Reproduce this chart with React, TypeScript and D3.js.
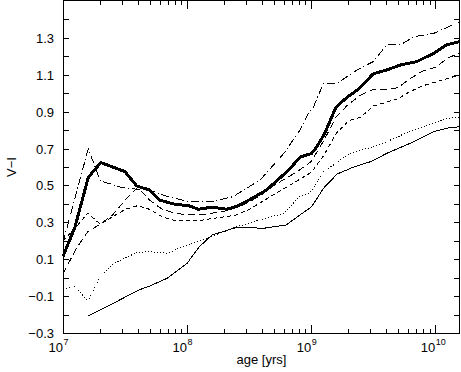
import React from 'react';
import * as d3 from 'd3';

const W = 461;
const H = 372;
const X0 = 63, X1 = 460, Y0 = 333, Y1 = 1;

// log10(age [yrs]) and V-I colour for each model track
const thickAge = [7.0, 7.097, 7.204, 7.304, 7.4, 7.5, 7.594, 7.70, 7.78, 7.89, 8.02, 8.09, 8.2, 8.32, 8.41, 8.51, 8.64, 8.82, 8.91, 9.005, 9.046, 9.11, 9.2, 9.29, 9.38, 9.50, 9.61, 9.72, 9.85, 9.99, 10.09, 10.2];
const thickVI = [0.114, 0.276, 0.544, 0.624, 0.60, 0.575, 0.497, 0.475, 0.42, 0.40, 0.389, 0.371, 0.382, 0.371, 0.389, 0.425, 0.475, 0.584, 0.653, 0.674, 0.71, 0.783, 0.924, 0.978, 1.021, 1.105, 1.126, 1.153, 1.171, 1.217, 1.262, 1.28];

const dashDotAge = [7.0, 7.204, 7.30, 7.47, 7.59, 7.70, 7.84, 8.02, 8.19, 8.37, 8.59, 8.78, 8.91, 8.97, 9.02, 9.10, 9.21, 9.37, 9.50, 9.61, 9.72, 9.83, 9.99, 10.2];
const dashDotVI = [0.19, 0.70, 0.525, 0.49, 0.48, 0.475, 0.44, 0.412, 0.412, 0.439, 0.53, 0.674, 0.80, 0.882, 0.927, 1.054, 1.054, 1.126, 1.171, 1.262, 1.262, 1.307, 1.325, 1.388];

const longDashAge = [7.0, 7.1, 7.2, 7.3, 7.4, 7.5, 7.6, 7.7, 7.8, 7.9, 8.0, 8.1, 8.2, 8.3, 8.4, 8.5, 8.6, 8.7, 8.8, 8.9, 9.0, 9.1, 9.2, 9.3, 9.4, 9.5, 9.6, 9.7, 9.8, 9.9, 10.0, 10.1, 10.2];
const longDashVI = [0.02, 0.15, 0.25, 0.29, 0.34, 0.42, 0.49, 0.42, 0.37, 0.35, 0.34, 0.34, 0.35, 0.36, 0.38, 0.41, 0.45, 0.50, 0.54, 0.58, 0.63, 0.74, 0.87, 0.94, 0.99, 1.02, 1.02, 1.03, 1.08, 1.12, 1.14, 1.19, 1.22];

const shortDashAge = [7.0, 7.1, 7.2, 7.3, 7.4, 7.5, 7.6, 7.7, 7.8, 7.9, 8.0, 8.1, 8.2, 8.3, 8.4, 8.5, 8.6, 8.7, 8.8, 8.9, 9.0, 9.1, 9.2, 9.3, 9.4, 9.5, 9.6, 9.7, 9.8, 9.9, 10.0, 10.1, 10.2];
const shortDashVI = [0.2, 0.27, 0.35, 0.29, 0.33, 0.37, 0.39, 0.37, 0.33, 0.31, 0.31, 0.31, 0.32, 0.33, 0.34, 0.37, 0.41, 0.45, 0.49, 0.53, 0.57, 0.66, 0.78, 0.85, 0.87, 0.93, 0.95, 0.97, 1.01, 1.04, 1.06, 1.08, 1.10];

const dottedAge = [7.0, 7.1, 7.2, 7.3, 7.41, 7.59, 7.69, 7.84, 8.0, 8.19, 8.40, 8.59, 8.78, 8.91, 8.99, 9.05, 9.10, 9.18, 9.31, 9.45, 9.61, 9.80, 9.99, 10.09, 10.2];
const dottedVI = [-0.067, -0.045, -0.13, 0.005, 0.078, 0.135, 0.141, 0.132, 0.177, 0.222, 0.276, 0.313, 0.349, 0.44, 0.46, 0.52, 0.575, 0.611, 0.674, 0.70, 0.737, 0.795, 0.837, 0.864, 0.87];

const thinAge = [7.2, 7.38, 7.61, 7.70, 7.84, 8.0, 8.10, 8.2, 8.40, 8.62, 8.80, 8.91, 9.005, 9.10, 9.21, 9.34, 9.48, 9.61, 9.80, 9.99, 10.09, 10.2];
const thinVI = [-0.208, -0.148, -0.067, -0.045, -0.003, 0.078, 0.168, 0.231, 0.273, 0.268, 0.286, 0.34, 0.385, 0.485, 0.562, 0.599, 0.629, 0.674, 0.729, 0.792, 0.81, 0.819];

const series = [
  { age: thinAge, vi: thinVI, width: 1, dash: '' },
  { age: dottedAge, vi: dottedVI, width: 1, dash: '1,2' },
  { age: shortDashAge, vi: shortDashVI, width: 1, dash: '4,3' },
  { age: longDashAge, vi: longDashVI, width: 1, dash: '7,4' },
  { age: dashDotAge, vi: dashDotVI, width: 1, dash: '8,3,1,3' },
  { age: thickAge, vi: thickVI, width: 3, dash: '' },
];

const FONT = "'Liberation Sans', Arial, Helvetica, sans-serif";

export default function App() {
  const x = d3.scaleLog().domain([1e7, Math.pow(10, 10.2)]).range([X0, X1]);
  const y = d3.scaleLinear().domain([-0.3, 1.5]).range([Y0, Y1]);
  const xTicks = x.ticks();
  const yTicks = d3.range(-3, 15).map((k) => k / 10);
  const fmt = d3.format('.1f');

  return (
    <svg width={W} height={H} style={{ position: 'absolute', left: 0, top: 0, background: '#fff' }}
      fontFamily={FONT}>
      <rect x={0} y={0} width={W} height={H} fill="#fff" />
      <g shapeRendering="crispEdges" stroke="#000" fill="none">
        {series.map((s, i) => {
          const line = d3.line<number>()
            .x((_, j) => x(Math.pow(10, s.age[j])))
            .y((v) => y(v));
          return (
            <path key={i} d={line(s.vi) || ''} strokeWidth={s.width}
              strokeDasharray={s.dash || undefined} strokeLinejoin="round" />
          );
        })}
      </g>
      <g shapeRendering="crispEdges" stroke="#000" strokeWidth={1}>
        <rect x={X0 + 0.5} y={Y1 - 0.5} width={X1 - X0 - 1} height={Y0 - Y1 + 0.5} fill="none" />
        {xTicks.map((t, i) => {
          const major = Math.abs(Math.log10(t) - Math.round(Math.log10(t))) < 1e-6;
          const len = major ? 8 : 4;
          const px = Math.round(x(t)) + 0.5;
          return (
            <g key={i}>
              <line x1={px} x2={px} y1={Y0} y2={Y0 - len} />
              <line x1={px} x2={px} y1={Y1 - 0.5} y2={Y1 + len} />
            </g>
          );
        })}
        {yTicks.map((t, i) => {
          const py = Math.round(y(t)) + 0.5;
          return (
            <g key={i}>
              <line x1={X0} x2={X0 + 6} y1={py} y2={py} />
              <line x1={X1} x2={X1 - 6} y1={py} y2={py} />
            </g>
          );
        })}
      </g>
      <g fontSize={13} fill="#000">
        {yTicks.filter((t) => Math.abs(Math.round(t * 10)) % 2 === 1).map((t, i) => (
          <text key={i} x={54} y={y(t) + 5} textAnchor="end">{fmt(t)}</text>
        ))}
        {xTicks.filter((t) => Math.abs(Math.log10(t) - Math.round(Math.log10(t))) < 1e-6).map((t, i) => (
          <g key={i}>
            <text x={x(t)} y={352} textAnchor="end">10</text>
            <text x={x(t) + 0.5} y={345} fontSize={9} textAnchor="start">{Math.round(Math.log10(t))}</text>
          </g>
        ))}
        <text x={(X0 + X1) / 2} y={364} textAnchor="middle">age [yrs]</text>
        <text transform={`translate(16,${(Y0 + Y1) / 2}) rotate(-90)`} textAnchor="middle">V−I</text>
      </g>
    </svg>
  );
}
